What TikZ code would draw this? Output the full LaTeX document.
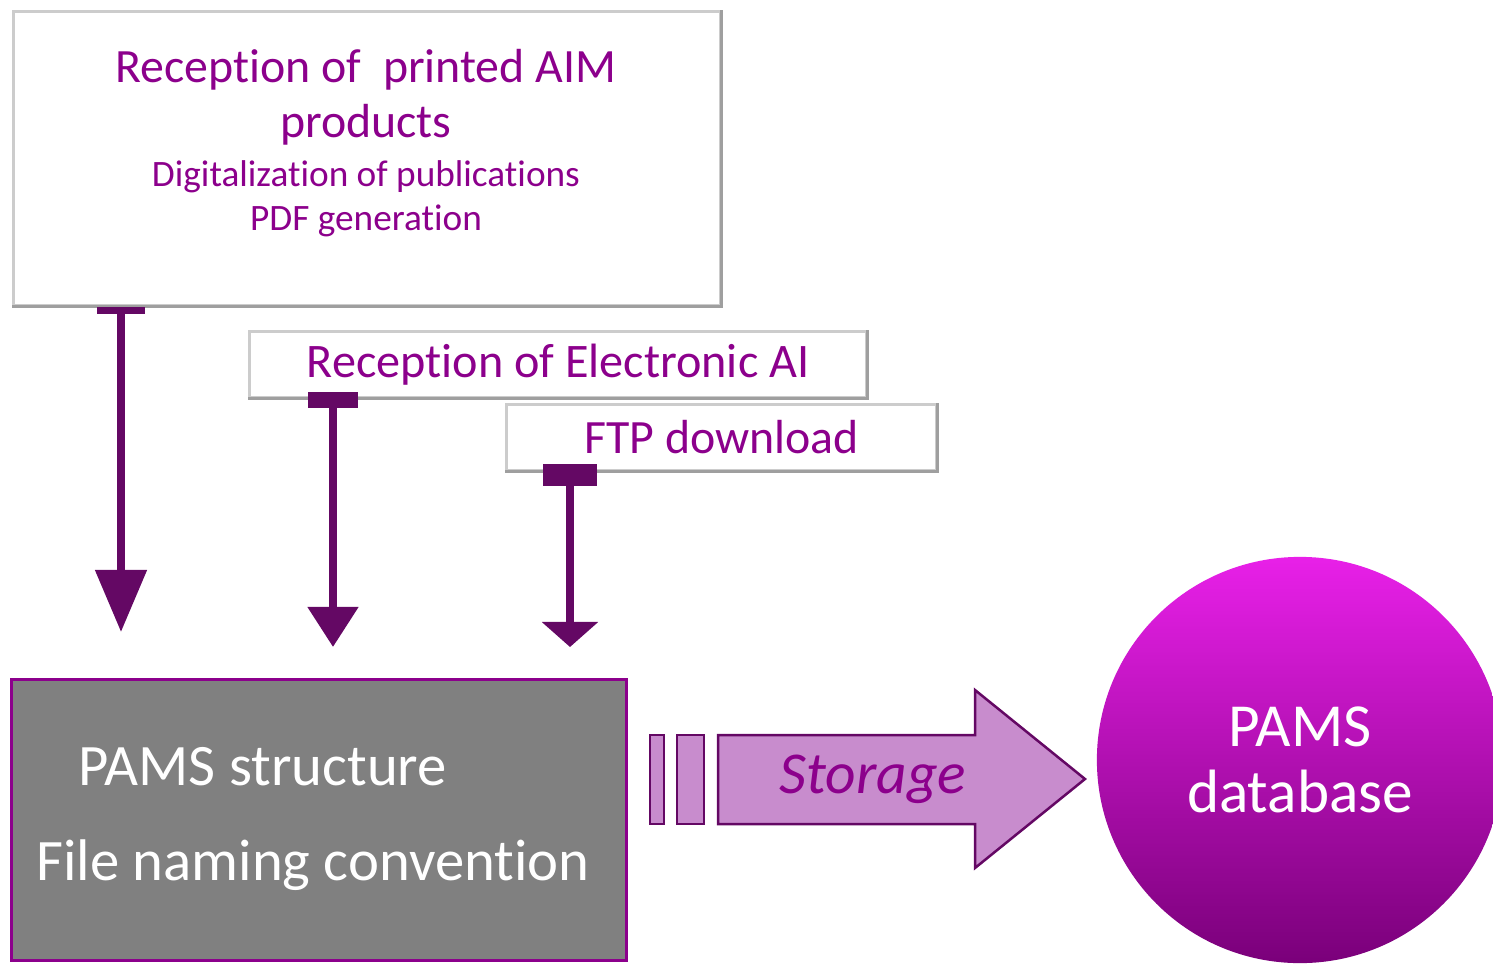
\documentclass[tikz,border=0pt]{standalone}
\usepackage{fontspec}
\setmainfont{Carlito}[Ligatures=NoCommon]
\usetikzlibrary{calc, arrows.meta}

\definecolor{aimpurple}{RGB}{140,0,140}
\definecolor{arrowpurple}{RGB}{100,8,100}
\definecolor{storagefill}{RGB}{200,140,205}
\definecolor{pamsgray}{RGB}{128,128,128}
\definecolor{dbtop}{RGB}{232,32,232}
\definecolor{dbbottom}{RGB}{122,0,122}

\begin{document}
\begin{tikzpicture}[x=0.01cm, y=-0.01cm,
    whitebox/.style={draw=gray!40, line width=0.03cm, fill=white, inner sep=0pt},
    boxedge/.style={draw=gray!75, line width=0.03cm},
    flowarrow/.style={draw=arrowpurple, fill=arrowpurple, line width=0.08cm},
    pamstext/.style={text=white, inner sep=0pt, font=\fontsize{16.7}{19}\selectfont},
    storageshape/.style={draw=arrowpurple, fill=storagefill, line width=0.025cm}]

    \useasboundingbox (0, 0) rectangle (1493, 969);

    \coordinate (tip_a) at (121, 632);
    \coordinate (tip_b) at (333, 647);
    \coordinate (tip_c) at (570, 647);

    \node[whitebox, minimum width = 7.06cm, minimum height = 2.93cm] (aim) at (367, 158.5) {};
    \draw[boxedge] (aim.north east) -- (aim.south east) -- (aim.south west);
    \node[align = center, text = aimpurple, font = \fontsize{13.6}{15.6}\selectfont] (aim_title) at (366, 97) {Reception of~~printed AIM\\products};
    \node[align = center, text = aimpurple, font = \fontsize{10.6}{12.5}\selectfont] (aim_sub) at (366, 199) {Digitalization of publications\\PDF generation};

    \node[whitebox, minimum width = 6.16cm, minimum height = 0.65cm, text = aimpurple, font = \fontsize{13.7}{16}\selectfont] (electronic) at (558, 364.5) {Reception of Electronic AI};
    \draw[boxedge] (electronic.north east) -- (electronic.south east) -- (electronic.south west);

    \node[whitebox, minimum width = 4.29cm, minimum height = 0.65cm, text = aimpurple, font = \fontsize{13.6}{16}\selectfont] (ftp) at (721.5, 437.5) {FTP download};
    \draw[boxedge] (ftp.north east) -- (ftp.south east) -- (ftp.south west);

    \draw[flowarrow, arrows = {Rectangle[length=0.07cm, width=0.48cm]-Triangle[length=0.62cm, width=0.5cm]}] (aim.south -| tip_a) -- (tip_a);
    \draw[flowarrow, arrows = {Rectangle[length=0.16cm, width=0.49cm]-Triangle[length=0.40cm, width=0.49cm]}] ($(electronic.south -| tip_b) + (0, -7)$) -- (tip_b);
    \draw[flowarrow, arrows = {Rectangle[length=0.22cm, width=0.53cm]-Triangle[length=0.25cm, width=0.55cm]}] ($(ftp.south -| tip_c) + (0, -8)$) -- (tip_c);

    \node[draw = aimpurple, fill = pamsgray, line width = 0.03cm, minimum width = 6.14cm, minimum height = 2.8cm] (pams) at (319, 820) {};
    \node[pamstext, anchor = base west] (pams_structure) at (78, 785) {PAMS structure};
    \node[pamstext, anchor = base] (pams_naming) at (313, 880) {File naming convention};

    \draw[storageshape] (650, 735) rectangle (664, 824);
    \draw[storageshape] (677, 735) rectangle (704, 824);
    \draw[storageshape] (718, 735) -- (975, 735) -- (975, 690) -- (1085, 779) -- (975, 868) -- (975, 824) -- (718, 824) -- cycle;
    \node[anchor = base, text = aimpurple, font = \fontsize{16.9}{18}\selectfont\itshape] (storage) at (873, 793) {Storage};

    \node[circle, top color = dbtop, bottom color = dbbottom, minimum size = 4.06cm, align = center, text = white, font = \fontsize{17.4}{18.8}\selectfont] (db) at (1300, 760) {PAMS\\database};
\end{tikzpicture}
\end{document}
